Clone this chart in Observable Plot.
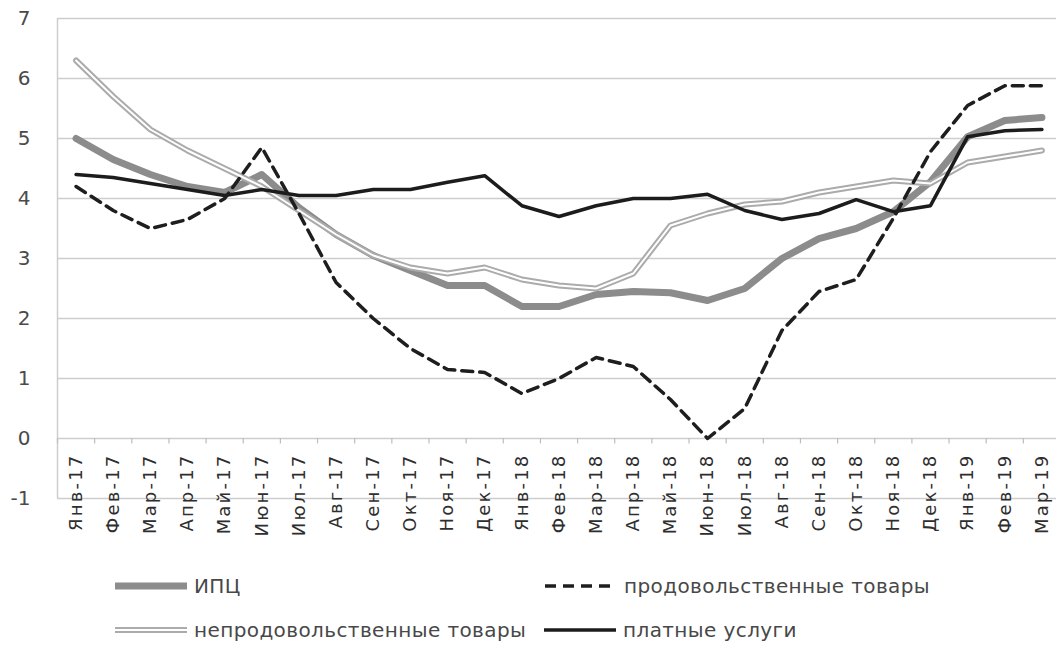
<!DOCTYPE html>
<html><head><meta charset="utf-8">
<script src="https://cdn.jsdelivr.net/npm/d3@7"></script>
<script src="https://cdn.jsdelivr.net/npm/@observablehq/plot@0.6"></script>
<style>
body{margin:0;background:#fff;font-family:"DejaVu Sans",sans-serif;}
#wrap{position:relative;width:1056px;height:645px;overflow:hidden;}
.leg{position:absolute;display:flex;align-items:center;font-size:20px;color:#484848;white-space:nowrap;height:26px;letter-spacing:0.4px;}
.leg svg{display:block;margin-right:7px;}
</style></head><body><div id="wrap"></div>
<script>
const months = ["Янв-17","Фев-17","Мар-17","Апр-17","Май-17","Июн-17","Июл-17","Авг-17","Сен-17","Окт-17","Ноя-17","Дек-17",
  "Янв-18","Фев-18","Мар-18","Апр-18","Май-18","Июн-18","Июл-18","Авг-18","Сен-18","Окт-18","Ноя-18","Дек-18",
  "Янв-19","Фев-19","Мар-19"];
const cpi      = [5.0,4.65,4.4,4.2,4.1,4.4,3.85,3.4,3.05,2.8,2.55,2.55,2.2,2.2,2.4,2.45,2.43,2.3,2.5,3.0,3.33,3.5,3.78,4.28,5.03,5.3,5.35];
const food     = [4.2,3.8,3.5,3.65,4.0,4.85,3.75,2.6,2.0,1.5,1.15,1.1,0.75,1.0,1.35,1.2,0.65,0.0,0.5,1.8,2.45,2.65,3.67,4.78,5.55,5.88,5.88];
const nonfood  = [6.3,5.7,5.15,4.8,4.5,4.2,3.8,3.4,3.05,2.85,2.75,2.85,2.65,2.55,2.5,2.75,3.55,3.75,3.9,3.95,4.1,4.2,4.3,4.25,4.6,4.7,4.8];
const services = [4.4,4.35,4.25,4.15,4.05,4.15,4.05,4.05,4.15,4.15,4.27,4.38,3.88,3.7,3.88,4.0,4.0,4.07,3.8,3.65,3.75,3.98,3.78,3.88,5.03,5.13,5.15];
const yTicks = [-1,0,1,2,3,4,5,6,7];
const seriesNames = ["ИПЦ","продовольственные товары","непродовольственные товары","платные услуги"];

const rows = s => months.map((m, i) => ({i, m, v: s[i]}));
const idx = months.map((m, i) => i);
const bounds = d3.range(-0.5, months.length, 1);

const chart = Plot.plot({
  width: 1056, height: 550,
  marginLeft: 57, marginRight: 0, marginTop: 18, marginBottom: 52,
  style: {fontFamily: "DejaVu Sans", background: "transparent", overflow: "visible"},
  x: {type: "linear", domain: [-0.5, months.length - 0.5], range: [57, 1060], axis: null},
  y: {domain: [-1, 7], axis: null},
  marks: [
    Plot.ruleY(yTicks, {stroke: "#cdcdcd", strokeWidth: 1.5}),
    Plot.ruleX([-0.5], {y1: -1, y2: 7, stroke: "#cdcdcd", strokeWidth: 1.5}),
    Plot.ruleX(bounds, {x: d => d, y1: 0, y2: -0.09, stroke: "#bdbdbd", strokeWidth: 1.2}),
    Plot.text(yTicks, {x: -0.5, y: d => d, text: d => String(d), textAnchor: "end", dx: -27, fontSize: 20, fill: "#4a4a4a"}),
    Plot.text(idx, {x: d => d, y: 0, text: d => months[d], rotate: -90, textAnchor: "end", dy: 15, fontSize: 18, fill: "#2e2e2e"}),
    Plot.line(rows(cpi), {x: "i", y: "v", stroke: "#8c8c8c", strokeWidth: 7, strokeLinejoin: "round"}),
    Plot.line(rows(nonfood), {x: "i", y: "v", stroke: "#ababab", strokeWidth: 6, strokeLinejoin: "round"}),
    Plot.line(rows(nonfood), {x: "i", y: "v", stroke: "#ffffff", strokeWidth: 2, strokeLinejoin: "round"}),
    Plot.line(rows(services), {x: "i", y: "v", stroke: "#1c1c1c", strokeWidth: 3.5, strokeLinejoin: "round"}),
    Plot.line(rows(food), {x: "i", y: "v", stroke: "#1e1e1e", strokeWidth: 3.5, strokeDasharray: "11,7"})
  ]
});
d3.select(chart).selectAll("text")
  .filter(function() { return months.includes(this.textContent); })
  .style("letter-spacing", "2.2px");
const wrap = document.getElementById("wrap");
wrap.appendChild(chart);

// legend
function swatch(kind) {
  const ns = "http://www.w3.org/2000/svg";
  const s = document.createElementNS(ns, "svg");
  s.setAttribute("width", 72); s.setAttribute("height", 12);
  const add = (stroke, w, dash) => {
    const l = document.createElementNS(ns, "line");
    l.setAttribute("x1", 0); l.setAttribute("x2", 72); l.setAttribute("y1", 6); l.setAttribute("y2", 6);
    l.setAttribute("stroke", stroke); l.setAttribute("stroke-width", w);
    if (dash) l.setAttribute("stroke-dasharray", dash);
    s.appendChild(l);
  };
  if (kind === 0) add("#8c8c8c", 7);
  if (kind === 1) add("#1e1e1e", 3.5, "11,7");
  if (kind === 2) { add("#ababab", 6); add("#ffffff", 2); }
  if (kind === 3) add("#1c1c1c", 3.5);
  return s;
}
const legPos = [[115, 573], [545, 573], [115, 617], [544, 617]];
seriesNames.forEach((name, k) => {
  const d = document.createElement("div");
  d.className = "leg";
  d.style.left = legPos[k][0] + "px";
  d.style.top = legPos[k][1] + "px";
  d.appendChild(swatch(k));
  const t = document.createElement("span");
  t.textContent = name;
  d.appendChild(t);
  wrap.appendChild(d);
});
</script></body></html>
